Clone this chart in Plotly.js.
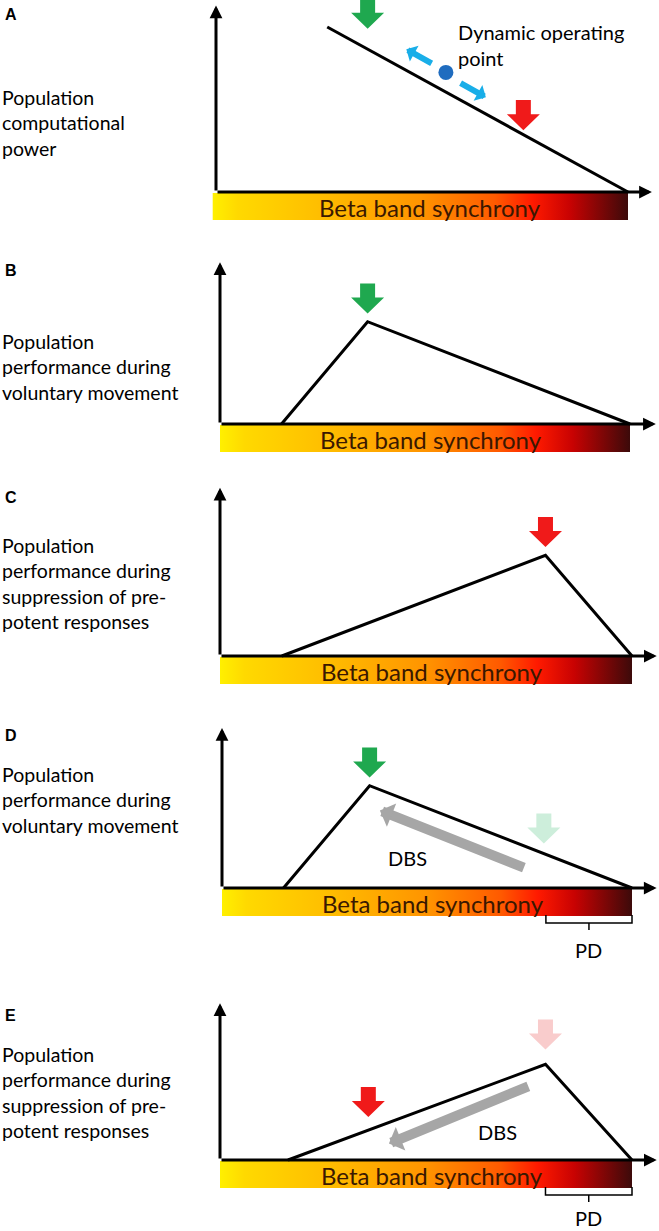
<!DOCTYPE html>
<html><head><meta charset="utf-8">
<script src="https://cdn.plot.ly/plotly-3.0.1.min.js"></script>
<style>html,body{margin:0;padding:0;background:#fff}#chart{width:659px;height:1231px}</style>
</head><body><div id="chart"></div>
<script>
// ---------------- data ----------------
const panelLetters = ['A', 'B', 'C', 'D', 'E'];
const yLabels = [
  'Population<br>computational<br>power',
  'Population<br>performance during<br>voluntary movement',
  'Population<br>performance during<br>suppression of pre-<br>potent responses',
  'Population<br>performance during<br>voluntary movement',
  'Population<br>performance during<br>suppression of pre-<br>potent responses'
];
const xLabel = 'Beta band synchrony';

// curves: synchrony (0..1) vs performance (0..1)
const curveA_x = [0.27, 1.0],        curveA_y = [1.0, 0.0];
const curveB_x = [0.15, 0.36, 1.0],  curveB_y = [0.0, 0.62, 0.0];
const curveC_x = [0.15, 0.79, 1.0],  curveC_y = [0.0, 0.61, 0.0];
const curveD_x = [0.15, 0.36, 1.0],  curveD_y = [0.0, 0.62, 0.0];
const curveE_x = [0.165, 0.79, 1.0], curveE_y = [0.0, 0.58, 0.0];
const curvesX = [curveA_x, curveB_x, curveC_x, curveD_x, curveE_x];
const curvesY = [curveA_y, curveB_y, curveC_y, curveD_y, curveE_y];

// axis arrow tips (synchrony / performance units)
const xTip = [1.058, 1.063, 1.06, 1.06, 1.06];
const yTip = [1.13, 0.98, 1.02, 0.97, 0.95];

// block (down) arrows marking operating points (tip position)
const markPanel = [0, 0, 1, 2, 3, 3, 4, 4];
const markX     = [0.368, 0.746, 0.36, 0.79, 0.36, 0.785, 0.79, 0.36];
const markY     = [0.99, 0.375, 0.67, 0.66, 0.67, 0.27, 0.67, 0.26];
const markColor = ['#1fa84f', '#f01a1a', '#1fa84f', '#f01a1a', '#1fa84f', '#cdeedb', '#f9cccc', '#f01a1a'];

// dynamic operating point (panel A)
const dotX = [0.558], dotY = [0.725];
const dotArrowTipX  = [0.462, 0.655], dotArrowTipY  = [0.865, 0.575];
const dotArrowTailX = [0.527, 0.59], dotArrowTailY = [0.775, 0.665];

// DBS shifts (panels D and E)
const dbsPanel = [3, 4];
const dbsTailX = [0.74, 0.752], dbsTailY = [0.12, 0.45];
const dbsHeadX = [0.385, 0.41], dbsHeadY = [0.47, 0.10];
const dbsTextX = [0.453, 0.673], dbsTextY = [0.18, 0.17];

// PD range (panels D and E)
const pdPanel = [3, 4];
const pdStart = [0.79, 0.79], pdEnd = [1.0, 1.0];

// ---------------- geometry (pixels) ----------------
const W = 659, H = 1231, PERF_PX = 165;
const GEO = [
  {x0: 216, x1: 628, base: 192,  top: 0,   bottom: 235, letterY: 15,   labelY: 123},
  {x0: 220, x1: 630, base: 424,  top: 235, bottom: 470, letterY: 270,  labelY: 367},
  {x0: 220, x1: 632, base: 656,  top: 470, bottom: 700, letterY: 497,  labelY: 583},
  {x0: 222, x1: 632, base: 888,  top: 700, bottom: 975, letterY: 735,  labelY: 800},
  {x0: 220, x1: 632, base: 1160, top: 975, bottom: 1231, letterY: 1015, labelY: 1092}
];
const FONT = 'Lato, "Open Sans", sans-serif';
const py = p => 1 - p / H;

const traces = [], annotations = [], layout = {
  width: W, height: H, margin: {l: 0, r: 0, t: 0, b: 0},
  paper_bgcolor: '#fff', plot_bgcolor: 'rgba(0,0,0,0)', showlegend: false,
  font: {family: FONT, color: '#000'}
};

GEO.forEach((g, i) => {
  const n = i === 0 ? '' : String(i + 1);
  const xr = 'x' + n, yr = 'y' + n;
  const w = g.x1 - g.x0;
  layout['xaxis' + n] = {domain: [0, 1], range: [-g.x0 / w, (W - g.x0) / w], visible: false, fixedrange: true, anchor: yr};
  layout['yaxis' + n] = {domain: [py(g.bottom), py(g.top)], range: [(g.base - g.bottom) / PERF_PX, (g.base - g.top) / PERF_PX], visible: false, fixedrange: true, anchor: xr};

  // gradient bar
  const bx0 = (i === 0 ? -0.008 : 0), by0 = -1 / PERF_PX, by1 = -28 / PERF_PX;
  traces.push({
    type: 'scatter', mode: 'lines', xaxis: xr, yaxis: yr, hoverinfo: 'skip',
    x: [bx0, 1.0, 1.0, bx0, bx0], y: [by0, by0, by1, by1, by0],
    fill: 'toself', line: {width: 0, color: 'rgba(0,0,0,0)'},
    fillgradient: {type: 'horizontal', colorscale: [
      [0, '#fff000'], [0.06, '#ffd900'], [0.25, '#ffbf00'], [0.5, '#ff9400'],
      [0.68, '#ff5a00'], [0.77, '#ff1a00'], [0.86, '#c80202'], [1, '#3c0a0a']]}
  });
  annotations.push({xref: xr, yref: yr, x: (i === 0 ? 0.52 : 0.515), y: -15 / PERF_PX, text: xLabel, showarrow: false,
    font: {family: FONT, size: 24, color: '#3a1800'}, xanchor: 'center', yanchor: 'middle'});

  // axes with arrows
  annotations.push({xref: xr, yref: yr, axref: xr, ayref: yr, x: 0, y: yTip[i], ax: 0, ay: 0, text: '',
    showarrow: true, arrowhead: 2, arrowsize: 0.85, arrowwidth: 3, arrowcolor: '#000'});
  annotations.push({xref: xr, yref: yr, axref: xr, ayref: yr, x: xTip[i], y: 0, ax: 0, ay: 0, text: '',
    showarrow: true, arrowhead: 2, arrowsize: 0.85, arrowwidth: 3, arrowcolor: '#000'});

  // curve
  traces.push({type: 'scatter', mode: 'lines', xaxis: xr, yaxis: yr, hoverinfo: 'skip',
    x: curvesX[i], y: curvesY[i], line: {color: '#000', width: 3}});

  // letters and labels
  annotations.push({xref: 'paper', yref: 'paper', x: 3 / W, y: py(g.letterY), text: '<b>' + panelLetters[i] + '</b>',
    showarrow: false, xanchor: 'left', yanchor: 'middle', font: {family: 'Arial, "Liberation Sans", sans-serif', size: 16, color: '#000'}});
  annotations.push({xref: 'paper', yref: 'paper', x: 0, y: py(g.labelY), text: yLabels[i], align: 'left',
    showarrow: false, xanchor: 'left', yanchor: 'middle', font: {family: FONT, size: 19.5, color: '#000'}});
});

const ref = i => (i === 0 ? '' : String(i + 1));

// block arrows: filled polygon around the tip (sizes in pixels, converted to axis units)
const ARROW_OUTLINE_PX = [[0, 0], [-16.5, 16], [-7.5, 16], [-7.5, 30], [7.5, 30], [7.5, 16], [16.5, 16], [0, 0]];
markPanel.forEach((p, k) => {
  const g = GEO[p], sx = 1 / (g.x1 - g.x0), sy = 1 / PERF_PX;
  traces.push({type: 'scatter', mode: 'lines', xaxis: 'x' + ref(p), yaxis: 'y' + ref(p), hoverinfo: 'skip',
    x: ARROW_OUTLINE_PX.map(o => markX[k] + o[0] * sx),
    y: ARROW_OUTLINE_PX.map(o => markY[k] + o[1] * sy),
    fill: 'toself', fillcolor: markColor[k], line: {width: 0, color: markColor[k]}});
});

// dynamic operating point
traces.push({type: 'scatter', mode: 'markers', xaxis: 'x', yaxis: 'y', hoverinfo: 'skip',
  x: dotX, y: dotY, marker: {size: 15, color: '#1f6cbf', line: {width: 0}}});
dotArrowTipX.forEach((tx, k) => {
  annotations.push({xref: 'x', yref: 'y', axref: 'x', ayref: 'y', x: tx, y: dotArrowTipY[k],
    ax: dotArrowTailX[k], ay: dotArrowTailY[k], text: '', showarrow: true,
    arrowhead: 1, arrowsize: 0.5, arrowwidth: 6, arrowcolor: '#19aee8'});
});
annotations.push({xref: 'paper', yref: 'paper', x: 456 / W, y: py(45), text: 'Dynamic operating<br>point', align: 'left',
  showarrow: false, xanchor: 'left', yanchor: 'middle', font: {family: FONT, size: 20, color: '#000'}});

// DBS arrows
dbsPanel.forEach((p, k) => {
  const xr = 'x' + ref(p), yr = 'y' + ref(p);
  annotations.push({xref: xr, yref: yr, axref: xr, ayref: yr, x: dbsHeadX[k], y: dbsHeadY[k],
    ax: dbsTailX[k], ay: dbsTailY[k], text: '', showarrow: true,
    arrowhead: 1, arrowsize: 0.42, arrowwidth: 10, arrowcolor: '#a6a6a6'});
  annotations.push({xref: xr, yref: yr, x: dbsTextX[k], y: dbsTextY[k], text: 'DBS', showarrow: false,
    xanchor: 'center', yanchor: 'middle', font: {family: FONT, size: 20, color: '#000'}});
});

// PD brace
pdPanel.forEach((p, k) => {
  const xr = 'x' + ref(p), yr = 'y' + ref(p);
  const t = -27 / PERF_PX, b = -35 / PERF_PX, tick = -42 / PERF_PX;
  const mid = (pdStart[k] + pdEnd[k]) / 2;
  traces.push({type: 'scatter', mode: 'lines', xaxis: xr, yaxis: yr, hoverinfo: 'skip',
    x: [pdStart[k], pdStart[k], pdEnd[k], pdEnd[k], null, mid, mid],
    y: [t, b, b, t, null, b, tick], line: {color: '#000', width: 1.5}});
  annotations.push({xref: xr, yref: yr, x: mid, y: (k === 0 ? -62 : -58) / PERF_PX, text: 'PD', showarrow: false,
    xanchor: 'center', yanchor: 'middle', font: {family: FONT, size: 20, color: '#000'}});
});

layout.annotations = annotations;
Plotly.newPlot('chart', traces, layout, {staticPlot: true, displayModeBar: false});
</script>
</body></html>
